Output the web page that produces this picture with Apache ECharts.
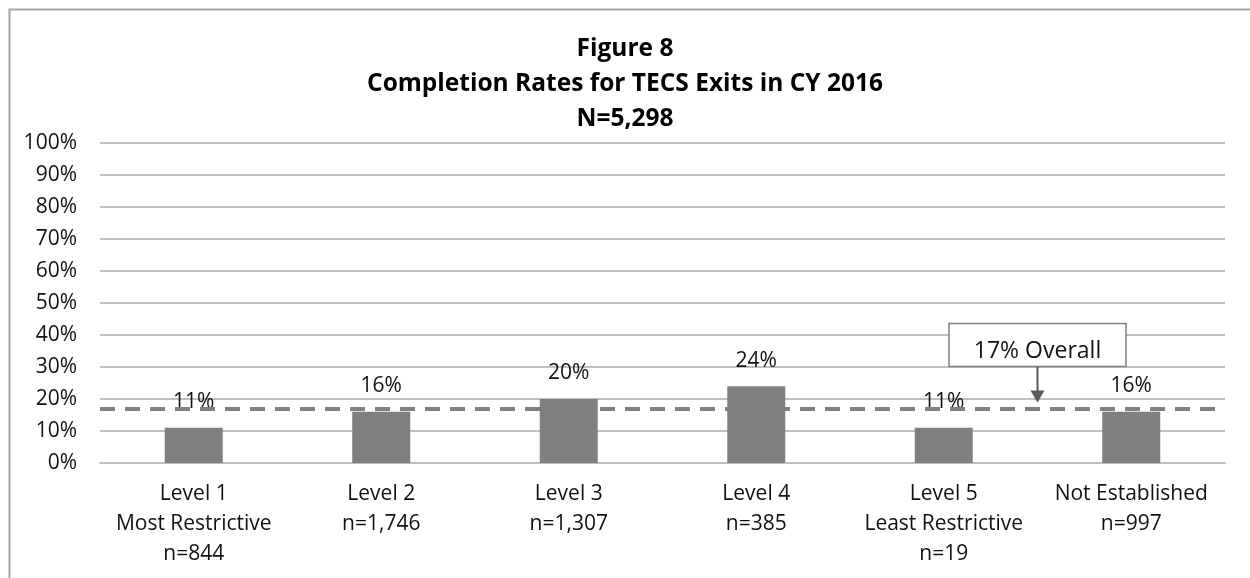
<!DOCTYPE html>
<html>
<head>
<meta charset="utf-8">
<script src="https://cdn.jsdelivr.net/npm/echarts@6/dist/echarts.min.js"></script>
<style>
  html, body { margin: 0; padding: 0; background: #fff; }
  #chart { width: 1250px; height: 578px; }
</style>
</head>
<body>
<div id="chart"></div>
<script>
// data
var categories = ['Level 1\nMost Restrictive\nn=844', 'Level 2\nn=1,746', 'Level 3\nn=1,307',
  'Level 4\nn=385', 'Level 5\nLeast Restrictive\nn=19', 'Not Established\nn=997'];
var rates = [11, 16, 20, 24, 11, 16];
var overall = 17;
var yTicks = [0, 10, 20, 30, 40, 50, 60, 70, 80, 90, 100];

var font = '"Open Sans", "Noto Sans", sans-serif';
var myChart = echarts.init(document.getElementById('chart'));

myChart.setOption({
  animation: false,
  title: {
    text: 'Figure 8\nCompletion Rates for TECS Exits in CY 2016\nN=5,298',
    left: 'center',
    top: 27,
    textStyle: { fontFamily: font, fontSize: 24.5, fontWeight: 'bold', color: '#000', lineHeight: 35 }
  },
  grid: { left: 100, right: 25, top: 143, bottom: 115 },
  xAxis: {
    type: 'category',
    data: categories,
    axisTick: { show: false },
    axisLine: { lineStyle: { color: '#bfbfbf', width: 2 } },
    axisLabel: { fontFamily: font, fontSize: 21, color: '#111', lineHeight: 30, margin: 16, interval: 0 }
  },
  yAxis: {
    type: 'value',
    min: yTicks[0],
    max: yTicks[yTicks.length - 1],
    interval: 10,
    axisLine: { show: false },
    axisTick: { show: false },
    axisLabel: { fontFamily: font, fontSize: 21, color: '#111', margin: 23, formatter: '{value}%' },
    splitLine: { lineStyle: { color: '#c0c0c0', width: 2 } }
  },
  series: [{
    type: 'bar',
    data: rates,
    barWidth: 58,
    itemStyle: { color: '#7f7f7f' },
    label: {
      show: true, position: 'top', distance: 15,
      fontFamily: font, fontSize: 21, color: '#111',
      formatter: '{c}%'
    },
    markLine: {
      silent: true,
      symbol: 'none',
      label: { show: false },
      lineStyle: { color: '#808080', width: 4, type: [15, 10] },
      data: [{ yAxis: overall }]
    }
  }]
});

// "17% Overall" callout, placed from the chart's own scales
function drawCallout() {
  var x5 = myChart.convertToPixel({ xAxisIndex: 0 }, categories[4]);
  var x6 = myChart.convertToPixel({ xAxisIndex: 0 }, categories[5]);
  var cx = (x5 + x6) / 2;
  var yLine = myChart.convertToPixel({ yAxisIndex: 0 }, overall);
  var tip = yLine - 6;
  var boxBottom = yLine - 42;
  var boxH = 43, boxW = 177;
  myChart.setOption({
    graphic: [
      { type: 'rect', left: 7, top: 7, silent: true,
        shape: { width: 1260, height: 600 },
        style: { fill: 'none', stroke: '#a6a6a6', lineWidth: 2 } },
      { type: 'rect', shape: { x: cx - boxW / 2, y: boxBottom - boxH, width: boxW, height: boxH },
        style: { fill: '#fff', stroke: '#808080', lineWidth: 1.5 }, z: 100 },
      { type: 'text', x: cx, y: boxBottom - boxH / 2 + 6, z: 101,
        style: { text: '17% Overall', fontFamily: font, fontSize: 23, fill: '#111', align: 'center', verticalAlign: 'middle' } },
      { type: 'line', shape: { x1: cx, y1: boxBottom, x2: cx, y2: tip - 10 }, z: 100,
        style: { stroke: '#595959', lineWidth: 2 } },
      { type: 'polygon', shape: { points: [[cx - 7, tip - 12], [cx + 7, tip - 12], [cx, tip]] }, z: 100,
        style: { fill: '#595959' } }
    ]
  });
}
drawCallout();
</script>
</body>
</html>
